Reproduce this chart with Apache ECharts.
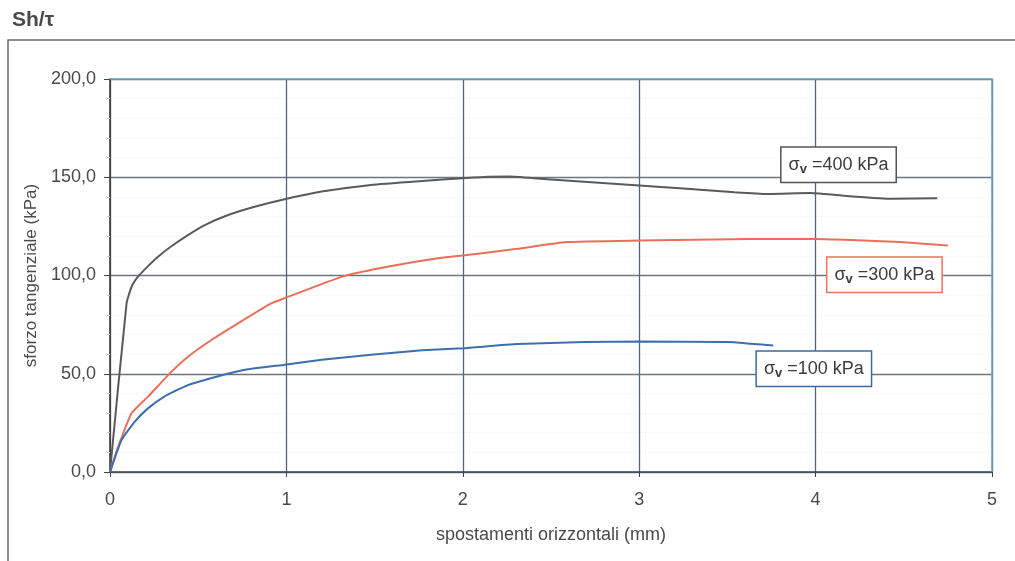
<!DOCTYPE html>
<html>
<head>
<meta charset="utf-8">
<script src="https://cdn.jsdelivr.net/npm/echarts@6/dist/echarts.min.js"></script>
<style>
  html, body { margin: 0; padding: 0; background: #fff; }
  #chart { width: 1015px; height: 561px; }
</style>
</head>
<body>
<div id="chart"></div>
<script>
// Horizontal displacement (mm) and shear stress (kPa) for each vertical load
const disp400 = [0, 0.094, 0.123, 0.16, 0.217, 0.274, 0.35, 0.444, 0.54, 0.67, 0.82, 0.99, 1.2, 1.48, 1.77, 2.0, 2.14, 2.27, 2.5, 3.0, 3.54, 3.73, 3.97, 4.2, 4.43, 4.69];
const tau400  = [0, 85.9, 94.4, 99.5, 104.9, 109.7, 115, 120.7, 125.8, 130.8, 135, 138.8, 142.7, 146.1, 148.1, 149.5, 150.3, 150.4, 148.8, 145.8, 142.4, 141.5, 142, 140.3, 139, 139.3];

const disp300 = [0, 0.047, 0.123, 0.217, 0.35, 0.444, 0.577, 0.728, 0.917, 0.99, 1.14, 1.33, 1.58, 1.86, 2.0, 2.31, 2.59, 3.0, 3.63, 4.0, 4.2, 4.48, 4.75];
const tau300  = [0, 13, 30, 38.5, 51.2, 58.8, 67.3, 75.8, 85.9, 88.5, 93.6, 99.8, 104.6, 108.8, 110.2, 113.6, 117, 117.8, 118.6, 118.6, 118.1, 117, 115.3];

const disp100 = [0, 0.066, 0.142, 0.217, 0.31, 0.425, 0.577, 0.766, 0.99, 1.2, 1.48, 1.77, 2.0, 2.31, 2.69, 3.0, 3.5, 3.63, 3.76];
const tau100  = [0, 16.4, 25.8, 32.5, 38.5, 43.6, 47.8, 52, 54.6, 57.1, 59.7, 61.9, 63, 65.1, 66.1, 66.4, 66.1, 65.3, 64.4];

const seriesNames = ['σv =400 kPa', 'σv =300 kPa', 'σv =100 kPa'];
const loadLabels = ['400', '300', '100'];
const xTicks = [0, 1, 2, 3, 4, 5];

const zip = (xs, ys) => xs.map((x, i) => [x, ys[i]]);

const FONT = '"Liberation Sans", Arial, sans-serif';
const TXT = '#4a4a4a';

function boxLabel(load, border) {
  return {
    show: true,
    position: 'inside',
    formatter: 'σ{s|v} =' + load + ' kPa',
    fontFamily: FONT,
    fontSize: 18,
    color: '#3c3c3c',
    backgroundColor: '#fff',
    borderColor: border,
    borderWidth: 1.5,
    padding: [7, 7, 6, 7],
    rich: {
      s: { fontFamily: FONT, fontSize: 13, fontWeight: 'bold', color: '#3c3c3c', padding: [8, 0, 0, 0] }
    }
  };
}

const chart = echarts.init(document.getElementById('chart'), null, { renderer: 'canvas' });

chart.setOption({
  backgroundColor: '#fff',
  animation: false,
  textStyle: { fontFamily: FONT },
  grid: { left: 110, right: 23, top: 79, bottom: 89, show: true, borderWidth: 0 },
  xAxis: {
    type: 'value', min: 0, max: 5, interval: 1,
    name: 'spostamenti orizzontali (mm)',
    nameLocation: 'middle', nameGap: 54,
    nameTextStyle: { fontFamily: FONT, fontSize: 18, color: TXT },
    axisLine: { show: true, onZero: false, lineStyle: { color: '#3a4654', width: 1.5 } },
    axisTick: { show: true, length: 5, lineStyle: { color: '#3a4654' } },
    axisLabel: { fontFamily: FONT, fontSize: 18, color: TXT, margin: 19,
      formatter: v => xTicks.includes(v) ? String(v) : '' },
    splitLine: { show: true, lineStyle: { color: '#4d6580', width: 1.3 } }
  },
  yAxis: {
    type: 'value', min: 0, max: 200, interval: 50,
    name: 'sforzo tangenziale (kPa)',
    nameLocation: 'middle', nameGap: 68, nameRotate: 90,
    nameTextStyle: { fontFamily: FONT, fontSize: 17, color: TXT },
    axisLine: { show: true, lineStyle: { color: '#333', width: 1.5 } },
    axisTick: { show: true, length: 6, lineStyle: { color: '#444' } },
    minorTick: { show: true, splitNumber: 5, length: 3, lineStyle: { color: '#c4ced8' } },
    minorSplitLine: { show: true, lineStyle: { color: '#f4f5f7', type: 'dotted' } },
    axisLabel: { fontFamily: FONT, fontSize: 18, color: TXT, margin: 14,
      formatter: v => v.toFixed(1).replace('.', ',') },
    splitLine: { show: true, lineStyle: { color: '#6e747a', width: 1.3 } }
  },
  series: [
    {
      name: seriesNames[0], type: 'line', data: zip(disp400, tau400),
      symbol: 'none', smooth: 0.15,
      lineStyle: { color: '#5a5a5a', width: 2 },
      markPoint: { symbol: 'rect', symbolSize: 0, data: [{ coord: [4.13, 156.3], label: boxLabel(loadLabels[0], '#555') }] }
    },
    {
      name: seriesNames[1], type: 'line', data: zip(disp300, tau300),
      symbol: 'none', smooth: 0.15,
      lineStyle: { color: '#ea6f5a', width: 2 },
      markPoint: { symbol: 'rect', symbolSize: 0, data: [{ coord: [4.39, 100.4], label: boxLabel(loadLabels[1], '#e8745e') }] }
    },
    {
      name: seriesNames[2], type: 'line', data: zip(disp100, tau100),
      symbol: 'none', smooth: 0.15,
      lineStyle: { color: '#3d6fae', width: 2 },
      markPoint: { symbol: 'rect', symbolSize: 0, data: [{ coord: [3.99, 52.5], label: boxLabel(loadLabels[2], '#3d6a9e') }] }
    }
  ]
});

// Title, outer frame, and the light-blue top/right edges of the plot
const p0 = chart.convertToPixel({ gridIndex: 0 }, [0, 200]);
const p1 = chart.convertToPixel({ gridIndex: 0 }, [5, 0]);
chart.setOption({
  graphic: [
    {
      id: 'title', type: 'text', left: 12, top: 10, z: 10,
      style: { text: 'Sh/τ', fontFamily: FONT, fontSize: 21, fontWeight: 'bold', fill: '#4a4a4a' }
    },
    {
      id: 'frame', type: 'rect', z: 0, silent: true,
      shape: { x: 8, y: 40, width: 1100, height: 700 },
      style: { fill: 'none', stroke: '#6a6a6a', lineWidth: 1.5 }
    },
    {
      id: 'plotEdge', type: 'polyline', z: 5, silent: true,
      shape: { points: [[p0[0], p0[1]], [p1[0], p0[1]], [p1[0], p1[1]]] },
      style: { stroke: '#6aa2c8', lineWidth: 1.5, fill: 'none' }
    }
  ]
});
</script>
</body>
</html>
